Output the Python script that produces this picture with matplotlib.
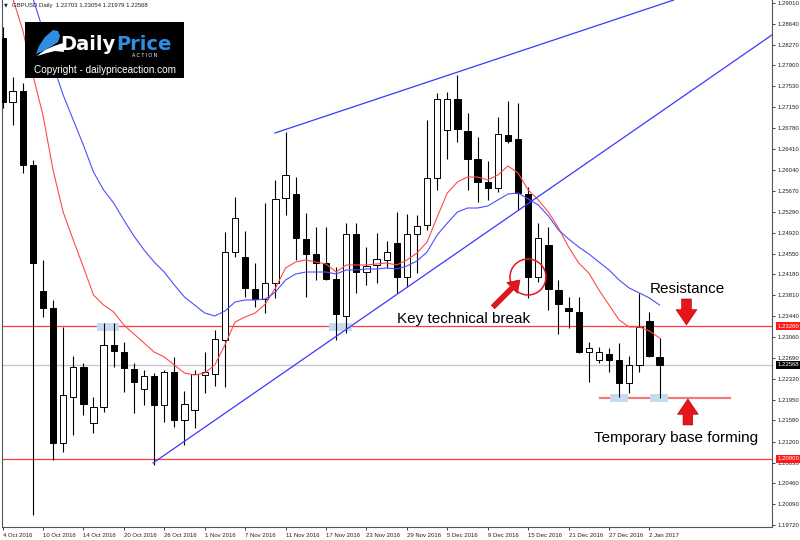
import numpy as np
import matplotlib
matplotlib.use("Agg")
import matplotlib.pyplot as plt
from matplotlib.patches import Rectangle, Ellipse, Polygon

# GBPUSD daily bars, 4 Oct 2016 .. 3 Jan 2017
opens = [1.28387, 1.27248, 1.27443, 1.26127, 1.23884, 1.23582, 1.21179, 1.21998, 1.22532, 1.21535,
         1.21820, 1.22923, 1.22798, 1.22496, 1.22140, 1.22371, 1.21855, 1.22443, 1.21588, 1.21766,
         1.22389, 1.22407, 1.23012, 1.24578, 1.24489, 1.23920, 1.23742, 1.24026, 1.25539, 1.25610,
         1.24810, 1.24543, 1.24382, 1.24098, 1.23439, 1.24899, 1.24222, 1.24347, 1.24436, 1.24738,
         1.24133, 1.24899, 1.25059, 1.25895, 1.26749, 1.27301, 1.26732, 1.26233, 1.25824, 1.25717,
         1.26660, 1.26589, 1.25610, 1.24133, 1.24703, 1.23902, 1.23582, 1.23510, 1.22798, 1.22656,
         1.22763, 1.22656, 1.22247, 1.22567, 1.23350, 1.22703]
highs = [1.28582, 1.27693, 1.27586, 1.26216, 1.24436, 1.23724, 1.23243, 1.22727, 1.22603, 1.21998,
         1.23315, 1.23315, 1.22976, 1.22603, 1.22478, 1.22425, 1.22478, 1.22710, 1.22104, 1.22478,
         1.22798, 1.23190, 1.24934, 1.25557, 1.24952, 1.24382, 1.25450, 1.25860, 1.26714, 1.25913,
         1.25272, 1.25023, 1.25023, 1.24311, 1.25094, 1.25094, 1.24667, 1.24916, 1.24774, 1.25290,
         1.25254, 1.25237, 1.26927, 1.27408, 1.27426, 1.27728, 1.27052, 1.26625, 1.26198, 1.26981,
         1.27266, 1.27230, 1.25735, 1.25094, 1.25023, 1.24080, 1.23777, 1.23777, 1.22976, 1.22887,
         1.22870, 1.22959, 1.22727, 1.23849, 1.23510, 1.23054]
lows = [1.27141, 1.26838, 1.25984, 1.19898, 1.23421, 1.20876, 1.21019, 1.21321, 1.21677, 1.21357,
        1.21731, 1.22532, 1.22087, 1.21713, 1.21855, 1.20787, 1.21553, 1.21464, 1.21143, 1.21446,
        1.22069, 1.22193, 1.22176, 1.24489, 1.23777, 1.23599, 1.23493, 1.23760, 1.25237, 1.24436,
        1.23777, 1.24080, 1.24080, 1.23012, 1.23137, 1.23849, 1.23991, 1.24026, 1.24293, 1.23849,
        1.23955, 1.24204, 1.24970, 1.25682, 1.26233, 1.26536, 1.25682, 1.25468, 1.25504, 1.25646,
        1.26518, 1.25326, 1.23760, 1.24044, 1.23546, 1.23119, 1.23226, 1.22781, 1.22265, 1.22603,
        1.22443, 1.21998, 1.22069, 1.22443, 1.22710, 1.21979]
closes = [1.27248, 1.27443, 1.26127, 1.24382, 1.23582, 1.21179, 1.22033, 1.22532, 1.21873, 1.21820,
          1.22923, 1.22816, 1.22514, 1.22265, 1.22371, 1.21855, 1.22443, 1.21588, 1.21873, 1.22407,
          1.22443, 1.23030, 1.24578, 1.25183, 1.23937, 1.23742, 1.24026, 1.25521, 1.25949, 1.24827,
          1.24543, 1.24382, 1.24098, 1.23475, 1.24899, 1.24222, 1.24329, 1.24454, 1.24578, 1.24133,
          1.24899, 1.25041, 1.25895, 1.27301, 1.27301, 1.26767, 1.26233, 1.25824, 1.25717, 1.26678,
          1.26554, 1.25628, 1.24133, 1.24827, 1.23920, 1.23653, 1.23528, 1.22798, 1.22870, 1.22798,
          1.22656, 1.22247, 1.22567, 1.23243, 1.22727, 1.22568]

# moving averages as drawn (red = fast, blue = slow)
ma_fast = [1.29686, 1.29099, 1.28529, 1.27728, 1.27016, 1.26038, 1.25290, 1.24792, 1.24311, 1.23813,
           1.23635, 1.23510, 1.23279, 1.23119, 1.22959, 1.22798, 1.22710, 1.22567, 1.22425, 1.22389,
           1.22425, 1.22567, 1.22923, 1.23332, 1.23421, 1.23493, 1.23653, 1.23937, 1.24293, 1.24400,
           1.24436, 1.24400, 1.24365, 1.24222, 1.24347, 1.24347, 1.24347, 1.24365, 1.24382, 1.24347,
           1.24436, 1.24560, 1.24756, 1.25201, 1.25628, 1.25824, 1.25913, 1.25913, 1.25860, 1.25949,
           1.26109, 1.25984, 1.25682, 1.25504, 1.25290, 1.25005, 1.24667, 1.24382, 1.24204, 1.23902,
           1.23635, 1.23368, 1.23243, 1.23243, 1.23172, 1.23048]
ma_slow = [1.30843, 1.30131, 1.29508, 1.29099, 1.28529, 1.27906, 1.27372, 1.26927, 1.26482, 1.26002,
           1.25682, 1.25450, 1.25148, 1.24863, 1.24614, 1.24400, 1.24222, 1.23991, 1.23777, 1.23635,
           1.23493, 1.23439, 1.23528, 1.23688, 1.23724, 1.23724, 1.23742, 1.23866, 1.24080, 1.24187,
           1.24222, 1.24222, 1.24222, 1.24187, 1.24258, 1.24258, 1.24276, 1.24276, 1.24293, 1.24276,
           1.24329, 1.24418, 1.24578, 1.24881, 1.25094, 1.25290, 1.25361, 1.25361, 1.25397, 1.25504,
           1.25610, 1.25628, 1.25521, 1.25415, 1.25219, 1.24970, 1.24810, 1.24667, 1.24543, 1.24400,
           1.24258, 1.24080, 1.23937, 1.23849, 1.23760, 1.23635]

tick_labels = ["4 Oct 2016", "10 Oct 2016", "14 Oct 2016", "20 Oct 2016", "26 Oct 2016",
               "1 Nov 2016", "7 Nov 2016", "11 Nov 2016", "17 Nov 2016", "23 Nov 2016",
               "29 Nov 2016", "5 Dec 2016", "9 Dec 2016", "15 Dec 2016", "21 Dec 2016",
               "27 Dec 2016", "2 Jan 2017"]
price_ticks = [1.29010, 1.28640, 1.28270, 1.27900, 1.27530, 1.27150, 1.26780, 1.26410, 1.26040,
               1.25670, 1.25290, 1.24920, 1.24550, 1.24180, 1.23810, 1.23440, 1.23060, 1.22690,
               1.22320, 1.21950, 1.21580, 1.21200, 1.20830, 1.20460, 1.20090, 1.19720]

resistance = 1.23260
support = 1.20900
last_price = 1.22568
base_level = 1.21980

# trend lines (bar index, price)
trend_low_x, trend_low_y = [14.89, 76.11], [1.20823, 1.28440]
trend_high_x, trend_high_y = [26.95, 66.40], [1.26696, 1.29063]

# light blue highlight boxes: (start bar, end bar, low, high)
highlights = [(9.35, 11.52, 1.23172, 1.23315), (32.3, 34.57, 1.23172, 1.23315),
              (60.1, 61.9, 1.21909, 1.22051), (64.05, 65.83, 1.21909, 1.22051)]

plt.rcParams['font.family'] = ['Liberation Sans', 'DejaVu Sans']

fig = plt.figure(figsize=(8, 5.4), dpi=100)
ax = fig.add_axes([2/800, 13/540, 770/800, 527/540])
ax.set_xlim(-0.05, 76.12)
ax.set_ylim(1.19684, 1.29063)

idx = np.arange(len(opens))
o = np.array(opens); c = np.array(closes)

# horizontal levels
ax.axhline(last_price, color='#c8c8c8', lw=1, zorder=1)
ax.axhline(resistance, color='#ff3b3b', lw=0.9, zorder=1)
ax.axhline(support, color='#ff3b3b', lw=0.9, zorder=1)
ax.plot([59.1, 71.96], [base_level, base_level], color='#f27a7a', lw=1.6, zorder=1)

for x0, x1, y0, y1 in highlights:
    ax.add_patch(Rectangle((x0, y0), x1 - x0, y1 - y0, fc='#c5dcf0', ec='none', zorder=2))

# candles
ax.vlines(idx, lows, highs, color='black', lw=0.8, zorder=3)
body_col = ['white' if cc > oo else 'black' for oo, cc in zip(o, c)]
ax.bar(idx, np.abs(c - o), bottom=np.minimum(o, c), width=0.62, color=body_col,
       edgecolor='black', linewidth=0.7, zorder=4)

# moving averages
ax.plot(idx, ma_fast, color='#ff4a4a', lw=0.8, zorder=5)
ax.plot(idx, ma_slow, color='#4d4dff', lw=0.8, zorder=5)

# trend lines
ax.plot(trend_low_x, trend_low_y, color='#3838ff', lw=0.9, zorder=5)
ax.plot(trend_high_x, trend_high_y, color='#3838ff', lw=0.9, zorder=5)

# annotations
ax.add_patch(Ellipse((51.98, 1.24133), 3.56, 0.0064, fill=False, ec='#e8141b', lw=1.1, zorder=6))
ax.annotate('', xy=(51.19, 1.24080), xytext=(48.52, 1.23599),
            arrowprops=dict(arrowstyle='simple,head_width=1.1,head_length=0.8,tail_width=0.35',
                            fc='#e8141b', ec='#9a0000', lw=0.4, shrinkA=0, shrinkB=0), zorder=6)
ax.annotate('', xy=(67.66, 1.23279), xytext=(67.66, 1.23742),
            arrowprops=dict(arrowstyle='simple,head_width=1.5,head_length=1.1,tail_width=0.7',
                            fc='#e8141b', ec='#9a0000', lw=0.4, shrinkA=0, shrinkB=0), zorder=6)
ax.annotate('', xy=(67.8, 1.21962), xytext=(67.8, 1.21500),
            arrowprops=dict(arrowstyle='simple,head_width=1.5,head_length=1.1,tail_width=0.7',
                            fc='#e8141b', ec='#9a0000', lw=0.4, shrinkA=0, shrinkB=0), zorder=6)

ax.text(39.02, 1.23315, 'Key technical break', fontsize=11, va='baseline', ha='left', zorder=7)
ax.text(64.05, 1.23849, 'Resistance', fontsize=11, va='baseline', ha='left', zorder=7)
ax.text(58.51, 1.21197, 'Temporary base forming', fontsize=11, va='baseline', ha='left', zorder=7)

# axes styling (MT4 look)
ax.yaxis.tick_right()
ax.set_yticks(price_ticks)
ax.set_yticklabels([f"{p:.5f}" for p in price_ticks])
ax.set_xticks(range(0, 65, 4))
ax.set_xticklabels(tick_labels)
for lbl in ax.get_xticklabels():
    lbl.set_ha('left')
ax.tick_params(axis='both', direction='out', length=2.5, width=0.6, labelsize=4.3,
               pad=1.5, colors='#222222')
for side in ['left', 'bottom', 'right']:
    ax.spines[side].set_color('#555555')
    ax.spines[side].set_linewidth(0.8)
ax.spines['top'].set_visible(False)

for val, fc in [(resistance, '#ff1a1a'), (last_price, 'black'), (support, '#ff1a1a')]:
    ax.annotate(f"{val:.5f}", xy=(1.0, val), xycoords=ax.get_yaxis_transform(),
                xytext=(4.0, 0), textcoords='offset points', fontsize=4.3, color='white',
                va='center', ha='left', annotation_clip=False, zorder=10,
                bbox=dict(boxstyle='square,pad=0.25', fc=fc, ec='none'))

# chart header
fig.text(6/800, 1 - 5/540, '\u25bc', fontsize=3.5, va='center', ha='center',
         family='DejaVu Sans', color='#222222')
fig.text(12/800, 1 - 5/540, 'GBPUSD Daily  1.22703 1.23054 1.21979 1.22568',
         fontsize=4.3, va='center', ha='left', color='#222222')

# logo box
lax = fig.add_axes([25/800, 1 - 78/540, 159/800, 56/540])
lax.set_xlim(0, 159)
lax.set_ylim(56, 0)
lax.axis('off')
lax.add_patch(Rectangle((0, 0), 159, 56, fc='black', ec='none'))
lax.add_patch(Polygon([(28, 8), (33, 9), (35, 14), (33, 20), (27, 24), (20, 28), (11, 32),
                       (14, 24), (20, 15)], closed=True, fc='#2f8de4', ec='none'))
lax.add_patch(Polygon([(12, 34), (20, 28), (29, 24), (38, 21), (39, 30), (30, 29), (22, 31)],
                      closed=True, fc='white', ec='none'))
lax.text(91, 28, 'Daily', fontsize=14, fontweight='bold', color='white',
         family='DejaVu Sans', ha='right', va='baseline')
lax.text(91, 28, 'Price', fontsize=14, fontweight='bold', color='#2f8de4',
         family='DejaVu Sans', ha='left', va='baseline')
lax.text(120, 34, 'A C T I O N', fontsize=3.6, color='white', ha='center', va='center')
lax.text(79.5, 48, 'Copyright - dailypriceaction.com', fontsize=7.2, color='white',
         ha='center', va='center')

fig.savefig('out.png', dpi=100)
